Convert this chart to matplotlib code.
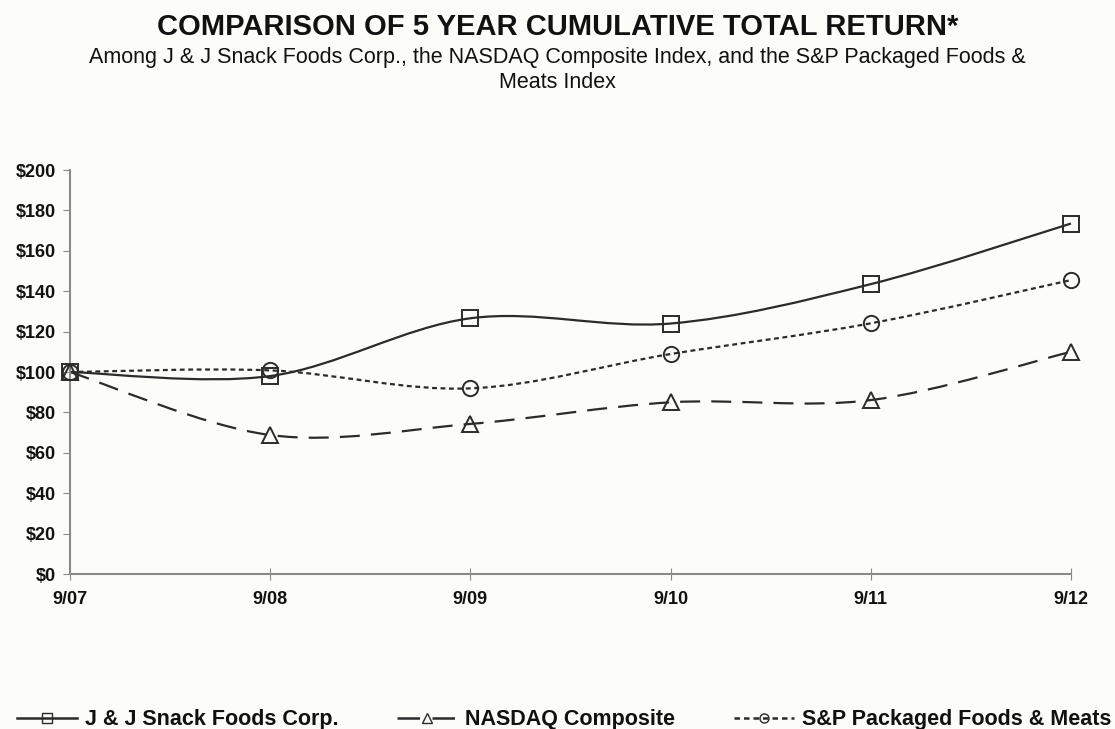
import matplotlib.pyplot as plt
import numpy as np
from matplotlib.path import Path
from matplotlib.patches import PathPatch
from matplotlib.lines import Line2D

plt.rcParams['font.family'] = ['Liberation Sans', 'DejaVu Sans']

# data
periods = ["9/07", "9/08", "9/09", "9/10", "9/11", "9/12"]
jj_snack = [100, 98, 126.6, 124.0, 143.5, 173.5]
nasdaq = [100, 68.8, 74.3, 85.0, 86.1, 110.0]
sp_foods = [100, 100.8, 91.9, 108.9, 124.1, 145.5]

ink = '#2b2b2b'
bg = '#fcfcf8'


def smooth_path(xs, ys):
  # Excel-like smoothed line: cubic bezier segments through the points
  pts = np.column_stack([xs, ys]).astype(float)
  n = len(pts)
  verts = [pts[0]]
  codes = [Path.MOVETO]
  for i in range(n - 1):
    p0 = pts[i - 1] if i > 0 else pts[i]
    p1 = pts[i]
    p2 = pts[i + 1]
    p3 = pts[i + 2] if i + 2 < n else pts[i + 1]
    c1 = p1 + (p2 - p0) / 6.0
    c2 = p2 - (p3 - p1) / 6.0
    verts += [c1, c2, p2]
    codes += [Path.CURVE4] * 3
  return Path(verts, codes)


fig = plt.figure(figsize=(11.15, 7.29), dpi=100, facecolor=bg)
ax = fig.add_axes([0.0628, 0.2126, 0.8977, 0.5542])
ax.set_facecolor(bg)

x = np.arange(len(periods))
series = [
  (jj_snack, 's', '-', 'J & J Snack Foods Corp.'),
  (nasdaq, '^', (0, (9, 5)), 'NASDAQ Composite'),
  (sp_foods, 'o', (0, (2.2, 1.6)), 'S&P Packaged Foods & Meats'),
]

handles = []
for vals, mk, ls, label in series:
  patch = PathPatch(smooth_path(x, vals), facecolor='none', edgecolor=ink,
                    lw=1.6, linestyle=ls, zorder=2, clip_on=False)
  ax.add_patch(patch)
  ax.plot(x, vals, linestyle='none', marker=mk, markersize=11,
          markerfacecolor='none', markeredgecolor=ink, markeredgewidth=1.4,
          zorder=3, clip_on=False)
  handles.append(Line2D([0], [0], color=ink, lw=1.8, linestyle=ls, marker=mk,
                        markersize=6.5, markerfacecolor='none',
                        markeredgecolor=ink, markeredgewidth=1.0))

ax.set_xlim(0, 5)
ax.set_ylim(0, 200)
ax.set_xticks(x)
ax.set_xticklabels(periods)
ax.set_yticks(np.arange(0, 201, 20))
ax.set_yticklabels(['$%d' % v for v in range(0, 201, 20)])

for s in ['top', 'right']:
  ax.spines[s].set_visible(False)
for s in ['left', 'bottom']:
  ax.spines[s].set_color('#8a8a8a')
  ax.spines[s].set_linewidth(1.5)
ax.tick_params(axis='y', direction='out', length=5, color='#8a8a8a',
               labelsize=13, pad=5)
ax.tick_params(axis='x', direction='inout', length=8, color='#8a8a8a',
               labelsize=13, pad=8)
for lbl in ax.get_xticklabels() + ax.get_yticklabels():
  lbl.set_fontweight('bold')
  lbl.set_color('#111111')

fig.text(0.5, 1 - 27 / 729, 'COMPARISON OF 5 YEAR CUMULATIVE TOTAL RETURN*',
         ha='center', va='center', fontsize=21, fontweight='bold', color='#111111')
fig.text(0.5, 1 - 57 / 729,
         'Among J & J Snack Foods Corp., the NASDAQ Composite Index, and the S&P Packaged Foods &',
         ha='center', va='center', fontsize=15.5, color='#111111')
fig.text(0.5, 1 - 82 / 729, 'Meats Index',
         ha='center', va='center', fontsize=15.5, color='#111111')

leg = fig.legend(handles, [s[3] for s in series], loc='center',
                 bbox_to_anchor=(0.506, 1 - 720 / 729), ncol=3, frameon=False,
                 handlelength=2.8, handletextpad=0.37, columnspacing=2.7,
                 borderpad=0, prop={'weight': 'bold', 'size': 15.5})
for t in leg.get_texts():
  t.set_color('#111111')

fig.savefig('out.png', dpi=100, facecolor=bg)
